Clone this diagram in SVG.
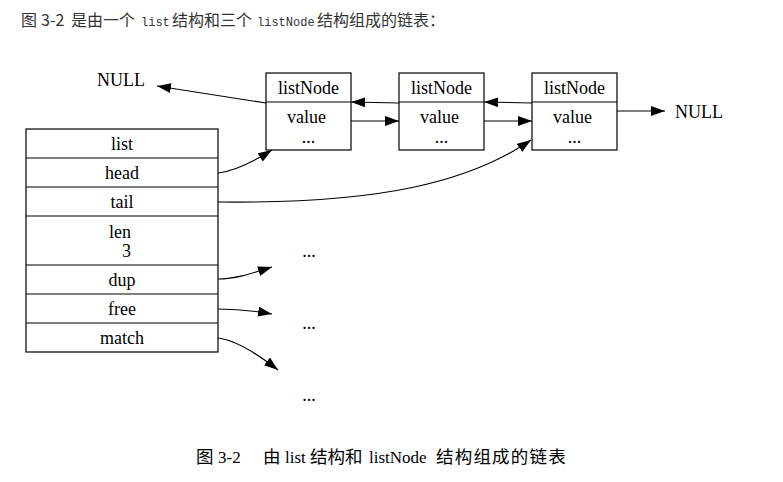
<svg xmlns="http://www.w3.org/2000/svg" width="783" height="482" viewBox="0 0 783 482">
<defs>
<style>
.t{font-family:"Liberation Serif","Times New Roman",serif;font-size:18px;fill:#000;text-anchor:middle}
.tl{font-family:"Liberation Serif","Times New Roman",serif;font-size:18px;fill:#000}
.box{fill:#fff;stroke:#000;stroke-width:1.2}
.ln{fill:none;stroke:#000;stroke-width:1.2}
.edge{fill:none;stroke:#000;stroke-width:1.1;marker-end:url(#ah)}
.cap{font-family:"Noto Sans CJK SC","Noto Sans",sans-serif;font-size:16px;fill:#333}
.mono{font-family:"Liberation Mono","DejaVu Sans Mono",monospace;font-size:12px;fill:#333}
.bz{font-family:"Noto Sans CJK SC",sans-serif;font-size:17.5px;fill:#000}
.bl{font-family:"Liberation Serif","Times New Roman",serif;font-size:17px;fill:#000}
</style>
<marker id="ah" viewBox="0 0 10 7" refX="10" refY="3.5" markerWidth="14" markerHeight="10" markerUnits="userSpaceOnUse" orient="auto">
<path d="M0,0 L10,3.5 L0,7 z" fill="#000"/>
</marker>
</defs>
<rect width="783" height="482" fill="#fff"/>
<g id="caption-top">
<text class="cap" x="21" y="25.5">图</text>
<text class="cap" x="41" y="25.5">3-2</text>
<text class="cap" x="71" y="25.5">是由一个</text>
<text class="mono" x="141" y="25.5">list</text>
<text class="cap" x="172" y="25.5">结构和三个</text>
<text class="mono" x="257" y="25.5">listNode</text>
<text class="cap" x="317" y="25.5">结构组成的链表：</text>
</g>
<g id="list">
<rect class="box" x="26" y="129" width="192" height="223"/>
<line class="ln" x1="26" y1="158" x2="218" y2="158"/>
<line class="ln" x1="26" y1="187" x2="218" y2="187"/>
<line class="ln" x1="26" y1="216" x2="218" y2="216"/>
<line class="ln" x1="26" y1="265" x2="218" y2="265"/>
<line class="ln" x1="26" y1="294" x2="218" y2="294"/>
<line class="ln" x1="26" y1="323" x2="218" y2="323"/>
<text class="t" x="122" y="150">list</text>
<text class="t" x="122" y="179">head</text>
<text class="t" x="122" y="208">tail</text>
<text class="t" x="120" y="238">len</text>
<text class="t" x="126.5" y="257">3</text>
<text class="t" x="122" y="286">dup</text>
<text class="t" x="122" y="315">free</text>
<text class="t" x="122" y="344">match</text>
</g>
<g id="node1">
<rect class="box" x="266" y="73" width="85" height="77"/>
<line class="ln" x1="266" y1="102" x2="351" y2="102"/>
<text class="t" x="308.5" y="94">listNode</text>
<text class="t" x="306.5" y="123">value</text>
<text class="t" x="308.5" y="143">...</text>
</g>
<g id="node2">
<rect class="box" x="399" y="73" width="85" height="77"/>
<line class="ln" x1="399" y1="102" x2="484" y2="102"/>
<text class="t" x="441.5" y="94">listNode</text>
<text class="t" x="439.5" y="123">value</text>
<text class="t" x="441.5" y="143">...</text>
</g>
<g id="node3">
<rect class="box" x="532" y="73" width="85" height="77"/>
<line class="ln" x1="532" y1="102" x2="617" y2="102"/>
<text class="t" x="574.5" y="94">listNode</text>
<text class="t" x="572.5" y="123">value</text>
<text class="t" x="574.5" y="143">...</text>
</g>
<g id="null-left"><text class="tl" x="97" y="86">NULL</text></g>
<g id="null-right"><text class="tl" x="675" y="118">NULL</text></g>
<g id="dots1"><text class="t" x="309" y="257">...</text></g>
<g id="dots2"><text class="t" x="309" y="329">...</text></g>
<g id="dots3"><text class="t" x="309" y="401">...</text></g>
<g id="connectors">
<path class="edge" d="M266,103 L157,86"/>
<path class="edge" d="M399,103 L351,102"/>
<path class="edge" d="M351,121 L399,121"/>
<path class="edge" d="M532,103 L484,102"/>
<path class="edge" d="M484,121 L532,121"/>
<path class="edge" d="M617,111 L665,111"/>
<path class="edge" d="M218,173 C236,171 256,160 272,150"/>
<path class="edge" d="M218,202 C380,204 470,182 531,140"/>
<path class="edge" d="M218,279 C235,279 250,274 272,267"/>
<path class="edge" d="M218,309 C240,309 255,311 272,314"/>
<path class="edge" d="M218,338 C235,340 255,352 278,370"/>
</g>
<g id="caption-bottom">
<text class="bz" x="196" y="463">图</text>
<text class="bl" x="218" y="463">3-2</text>
<text class="bz" x="263" y="463">由</text>
<text class="bl" x="285" y="463">list</text>
<text class="bz" x="310" y="463">结构和</text>
<text class="bl" x="369" y="463">listNode</text>
<text class="bz" x="436" y="463" letter-spacing="1.2">结构组成的链表</text>
</g>
</svg>
